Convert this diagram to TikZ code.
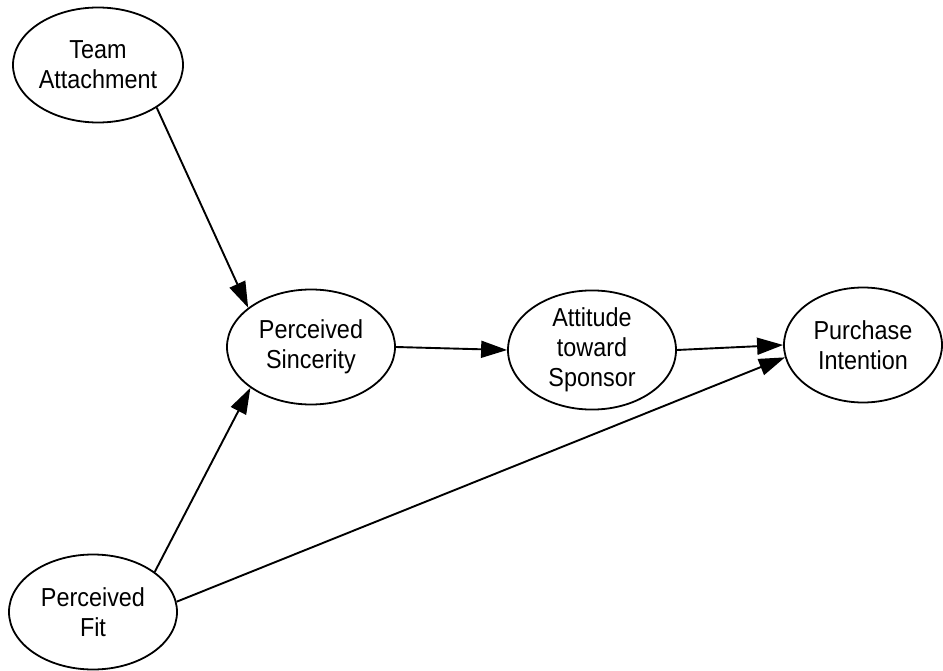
\documentclass[tikz,border=0pt]{standalone}
\usepackage{fontspec}
\setmainfont[FakeStretch=0.9]{Liberation Sans}
\usetikzlibrary{shapes.geometric, arrows.meta, positioning}

\begin{document}
\begin{tikzpicture}[x=1pt, y=-1pt,
        construct/.style={ellipse, draw, line width=1.8pt, minimum width=168pt, minimum height=115pt,
            inner sep=0pt, align=center, font=\fontsize{26}{30}\selectfont},
        link/.style={-{Triangle[length=26pt, width=17pt]}, line width=1.9pt}]
        \useasboundingbox (0,0) rectangle (943,671);

        % constructs
        \node[construct, minimum width=170pt] (ta) at (98,65)    {Team\\Attachment};
        \node[construct] (ps)  at (311,347)  {Perceived\\Sincerity};
        \node[construct] (ats) at (592,350)  {Attitude\\toward\\Sponsor};
        \node[construct, minimum width=158pt] (pi) at (863,345) {Purchase\\Intention};
        \node[construct] (pf)  at (93,612)   {Perceived\\Fit};

        % paths
        \draw[link] (ta.-36) -- (ps.148);
        \draw[link] (pf.33) -- (ps.-146);
        \draw[link] (ps.east) -- (ats.west);
        \draw[link] (ats.east) -- (pi.west);
        \draw[link] (pf.7) -- (pi.-171);
    \end{tikzpicture}
\end{document}
